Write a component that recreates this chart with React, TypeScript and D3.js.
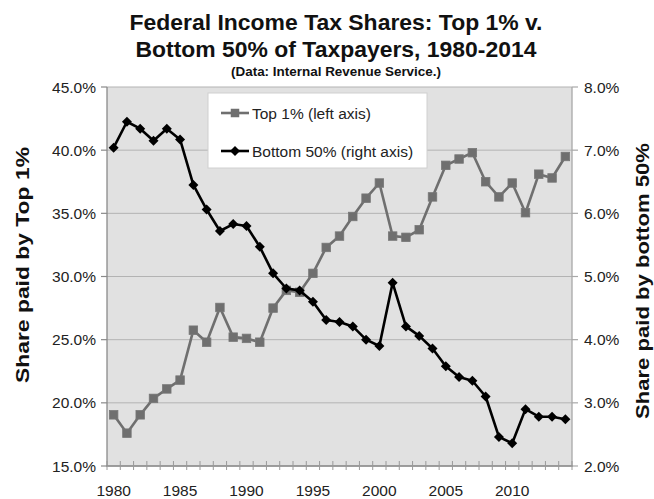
import React from "react";
import * as d3 from "d3";

const years: number[] = d3.range(1980, 2015);
const top1: number[] = [
  19.05, 17.6, 19.05, 20.35, 21.1, 21.8, 25.75, 24.8, 27.55, 25.2,
  25.1, 24.8, 27.5, 28.9, 28.75, 30.25, 32.3, 33.2, 34.75, 36.2,
  37.4, 33.2, 33.1, 33.7, 36.3, 38.8, 39.3, 39.8, 37.5, 36.3,
  37.4, 35.05, 38.1, 37.8, 39.5,
];
const bottom50: number[] = [
  7.04, 7.45, 7.34, 7.15, 7.34, 7.17, 6.45, 6.06, 5.72, 5.83,
  5.8, 5.47, 5.05, 4.81, 4.78, 4.6, 4.31, 4.28, 4.21, 4.0,
  3.9, 4.9, 4.21, 4.06, 3.86, 3.58, 3.41, 3.35, 3.1, 2.46,
  2.36, 2.9, 2.78, 2.78, 2.74,
];
const leftTicks: number[] = [15, 20, 25, 30, 35, 40, 45];
const rightTicks: number[] = [2, 3, 4, 5, 6, 7, 8];
const yearLabels: number[] = [1980, 1985, 1990, 1995, 2000, 2005, 2010];
const titleLines: string[] = [
  "Federal Income Tax Shares: Top 1% v.",
  "Bottom 50% of Taxpayers, 1980-2014",
];
const subtitle = "(Data: Internal Revenue Service.)";
const seriesNames: string[] = ["Top 1% (left axis)", "Bottom 50% (right axis)"];

const W = 654;
const H = 499;
const L = 107;
const R = 572;
const T = 87;
const B = 466;
const FONT = "'Liberation Sans', Arial, sans-serif";
const GRAY = "#6f6f6f";

export default function App() {
  const x = d3.scaleBand<number>().domain(years).range([L, R]);
  const cx = (yr: number) => (x(yr) as number) + x.bandwidth() / 2;
  const yL = d3.scaleLinear().domain([15, 45]).range([B, T]);
  const yR = d3.scaleLinear().domain([2, 8]).range([B, T]);

  const lineTop = d3
    .line<number>()
    .x((_, i) => cx(years[i]))
    .y((d) => yL(d));
  const lineBot = d3
    .line<number>()
    .x((_, i) => cx(years[i]))
    .y((d) => yR(d));

  const sq = 8.5;
  const dm = 5;
  const diamond = (px: number, py: number, s: number) =>
    `M${px},${py - s}L${px + s},${py}L${px},${py + s}L${px - s},${py}Z`;

  const boundaries = d3.range(years.length + 1).map((i) => L + i * x.bandwidth());
  const titleLens = [413, 401];

  return (
    <svg width={W} height={H} style={{ display: "block", position: "absolute", left: 0, top: 0 }} fontFamily={FONT}>
      <rect x={0} y={0} width={W} height={H} fill="#fff" />
      {titleLines.map((t, i) => (
        <text
          key={t}
          x={336}
          y={30 + i * 27}
          textAnchor="middle"
          fontSize={22.5}
          fontWeight="bold"
          fill="#111"
          textLength={titleLens[i]}
          lengthAdjust="spacingAndGlyphs"
        >
          {t}
        </text>
      ))}
      <text x={336} y={76} textAnchor="middle" fontSize={12} fontWeight="bold" fill="#111" textLength={210} lengthAdjust="spacingAndGlyphs">
        {subtitle}
      </text>

      <rect x={L} y={T} width={R - L} height={B - T} fill="#e1e1e1" />
      {leftTicks.map((t) => (
        <line key={t} x1={L} x2={R} y1={yL(t)} y2={yL(t)} stroke="#b3b3b3" strokeWidth={1} />
      ))}
      <line x1={L} x2={L} y1={T} y2={B} stroke="#8a8a8a" strokeWidth={1.3} />
      <line x1={R} x2={R} y1={T} y2={B} stroke="#a8a8a8" strokeWidth={1.3} />
      <line x1={L - 1} x2={R + 1} y1={B} y2={B} stroke="#8a8a8a" strokeWidth={1.3} />
      {leftTicks.map((t) => (
        <line key={"lt" + t} x1={L - 6} x2={L} y1={yL(t)} y2={yL(t)} stroke="#8a8a8a" strokeWidth={1.2} />
      ))}
      {rightTicks.map((t) => (
        <line key={"rt" + t} x1={R} x2={R + 6} y1={yR(t)} y2={yR(t)} stroke="#a8a8a8" strokeWidth={1.2} />
      ))}
      {boundaries.map((bx, i) => (
        <line key={"xt" + i} x1={bx} x2={bx} y1={B - 5} y2={B + 4} stroke="#9a9a9a" strokeWidth={1} />
      ))}

      {leftTicks.map((t) => (
        <text key={"ll" + t} x={96} y={yL(t) + 5.5} textAnchor="end" fontSize={15.5} fill="#222">
          {t.toFixed(1) + "%"}
        </text>
      ))}
      {rightTicks.map((t) => (
        <text key={"rl" + t} x={584} y={yR(t) + 5.5} textAnchor="start" fontSize={15.5} fill="#222">
          {t.toFixed(1) + "%"}
        </text>
      ))}
      {yearLabels.map((yr) => (
        <text key={"xl" + yr} x={cx(yr)} y={496} textAnchor="middle" fontSize={15.5} fill="#222">
          {yr}
        </text>
      ))}

      <text
        transform={`translate(29,${265}) rotate(-90)`}
        textAnchor="middle"
        fontSize={18}
        fontWeight="bold"
        fill="#111"
        textLength={236}
        lengthAdjust="spacingAndGlyphs"
      >
        Share paid by Top 1%
      </text>
      <text
        transform={`translate(649,${281}) rotate(-90)`}
        textAnchor="middle"
        fontSize={18}
        fontWeight="bold"
        fill="#111"
        textLength={276}
        lengthAdjust="spacingAndGlyphs"
      >
        Share paid by bottom 50%
      </text>

      <path d={lineTop(top1) || ""} fill="none" stroke={GRAY} strokeWidth={2.6} strokeLinejoin="round" />
      {top1.map((v, i) => (
        <rect key={"s" + i} x={cx(years[i]) - sq / 2} y={yL(v) - sq / 2} width={sq} height={sq} fill={GRAY} stroke="#777" strokeWidth={0.8} />
      ))}
      <path d={lineBot(bottom50) || ""} fill="none" stroke="#000" strokeWidth={2.6} strokeLinejoin="round" />
      {bottom50.map((v, i) => (
        <path key={"d" + i} d={diamond(cx(years[i]), yR(v), dm)} fill="#000" />
      ))}

      <rect x={208} y={93} width={219} height={75} fill="#fff" stroke="#d0d0d0" strokeWidth={1} />
      <line x1={221} x2={249} y1={113} y2={113} stroke={GRAY} strokeWidth={2.6} />
      <rect x={235 - sq / 2} y={113 - sq / 2} width={sq} height={sq} fill={GRAY} />
      <text x={252} y={118.5} fontSize={15.5} fill="#222">{seriesNames[0]}</text>
      <line x1={221} x2={249} y1={151} y2={151} stroke="#000" strokeWidth={2.6} />
      <path d={diamond(235, 151, dm)} fill="#000" />
      <text x={252} y={156.5} fontSize={15.5} fill="#222">{seriesNames[1]}</text>
    </svg>
  );
}
